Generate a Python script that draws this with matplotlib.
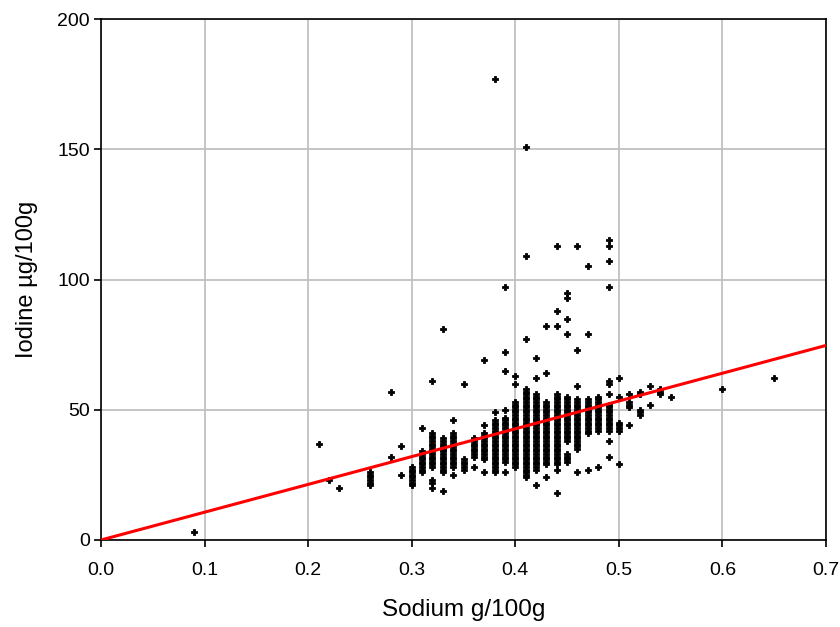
import numpy as np
import matplotlib
matplotlib.use("Agg")
import matplotlib.pyplot as plt

plt.rcParams['font.family'] = ['Liberation Sans', 'DejaVu Sans']

# sodium values (g/100g), one entry per column of samples
col_sodium = [0.09, 0.21, 0.22, 0.23, 0.26, 0.28, 0.29, 0.30, 0.31, 0.32,
              0.33, 0.34, 0.35, 0.36, 0.37, 0.38, 0.39, 0.40, 0.41, 0.42,
              0.43, 0.44, 0.45, 0.46, 0.47, 0.48, 0.49, 0.50, 0.51, 0.52,
              0.53, 0.54, 0.55, 0.60, 0.65]

# iodine values (ug/100g)
col_iodine = [
    [3],
    [37],
    [23],
    [20],
    [21, 22, 23, 24, 25, 26],
    [32, 57],
    [25, 36],
    [21, 22, 23, 24, 25, 26, 27, 28],
    [26, 27, 28, 29, 30, 31, 32, 33, 34, 43],
    [20, 22, 23, 28, 29, 30, 31, 32, 33, 34, 35, 36, 37, 38, 39, 40, 41, 61],
    [19, 26, 27, 28, 29, 30, 31, 32, 33, 34, 35, 36, 37, 38, 39, 81],
    [25, 28, 29, 30, 31, 32, 33, 34, 35, 36, 37, 38, 39, 40, 41, 46],
    [27, 28, 29, 30, 31, 60],
    [28, 32, 33, 34, 35, 36, 37, 38, 39],
    [26, 31, 32, 33, 34, 35, 36, 37, 38, 39, 40, 41, 44, 69],
    [26, 27, 28, 29, 30, 31, 32, 33, 34, 35, 36, 37, 38, 39, 40, 41, 42, 43,
     44, 45, 46, 49, 177],
    [26, 30, 31, 32, 33, 34, 35, 36, 37, 38, 39, 40, 41, 42, 43, 44, 45, 46,
     47, 50, 65, 72, 97],
    [28, 29, 30, 31, 32, 33, 34, 35, 36, 37, 38, 39, 40, 41, 42, 43, 44, 45,
     46, 47, 48, 49, 50, 51, 52, 53, 60, 63],
    [24, 25, 26, 27, 28, 29, 30, 31, 32, 33, 34, 35, 36, 37, 38, 39, 40, 41,
     42, 43, 44, 45, 46, 47, 48, 49, 50, 51, 52, 53, 54, 55, 56, 57, 58, 77,
     109, 151],
    [21, 27, 28, 29, 30, 31, 32, 33, 34, 35, 36, 37, 38, 39, 40, 41, 42, 43,
     44, 45, 46, 47, 48, 49, 50, 51, 52, 53, 54, 55, 56, 62, 70],
    [24, 29, 30, 31, 32, 33, 34, 35, 36, 37, 38, 39, 40, 41, 42, 43, 44, 45,
     46, 47, 48, 49, 50, 51, 52, 53, 64, 82],
    [18, 27, 29, 30, 31, 32, 33, 34, 35, 36, 37, 38, 39, 40, 41, 42, 43, 44,
     45, 46, 47, 48, 49, 50, 51, 52, 53, 54, 55, 56, 82, 88, 113],
    [30, 31, 32, 33, 38, 39, 40, 41, 42, 43, 44, 45, 46, 47, 48, 49, 50, 51,
     52, 53, 54, 55, 79, 85, 93, 95],
    [26, 35, 36, 37, 38, 39, 40, 41, 42, 43, 44, 45, 46, 47, 48, 49, 50, 51,
     52, 53, 54, 59, 73, 113],
    [27, 41, 42, 43, 44, 45, 46, 47, 48, 49, 50, 51, 52, 53, 54, 79, 105],
    [28, 42, 43, 44, 45, 46, 47, 48, 49, 50, 51, 52, 53, 54, 55],
    [32, 38, 42, 43, 44, 45, 46, 47, 48, 49, 50, 51, 52, 56, 60, 61, 97, 107,
     113, 115],
    [29, 42, 43, 44, 45, 55, 62],
    [44, 51, 52, 53, 56],
    [48, 49, 50, 56, 57],
    [52, 59],
    [56, 57, 58],
    [55],
    [58],
    [62],
]

# slope of the red line through the origin
slope = 106.7
line_x = [0.0, 0.7]

x_ticks = [0.0, 0.1, 0.2, 0.3, 0.4, 0.5, 0.6, 0.7]
y_ticks = [0, 50, 100, 150, 200]

sodium = np.concatenate([[x] * len(ys) for x, ys in zip(col_sodium, col_iodine)])
iodine = np.concatenate(col_iodine)

fig = plt.figure(figsize=(8.4, 6.27), dpi=100)
ax = fig.add_axes([101 / 840, 1 - 540 / 627, 725 / 840, 521 / 627])

ax.grid(True, color='#c0c0c0', linewidth=1.3, zorder=0)
ax.set_axisbelow(True)

ax.plot(sodium, iodine, linestyle='none', marker='P', markersize=5,
        color='black', markeredgecolor='black', markeredgewidth=0.6, zorder=3)
ax.plot(line_x, [slope * v for v in line_x], color='red', linewidth=2.2, zorder=4)

ax.set_xlim(0, 0.7)
ax.set_ylim(0, 200)
ax.set_xticks(x_ticks)
ax.set_xticklabels(['%.1f' % v for v in x_ticks])
ax.set_yticks(y_ticks)

for s in ax.spines.values():
    s.set_linewidth(1.2)
    s.set_color('black')

ax.tick_params(direction='out', length=5, width=1.2, labelsize=14)
ax.tick_params(axis='x', pad=11)
ax.tick_params(axis='y', pad=3)

ax.set_xlabel('Sodium g/100g', fontsize=17.5, labelpad=14)
ax.set_ylabel('Iodine \u00b5g/100g', fontsize=17, labelpad=14)

fig.savefig('out.png', dpi=100)
